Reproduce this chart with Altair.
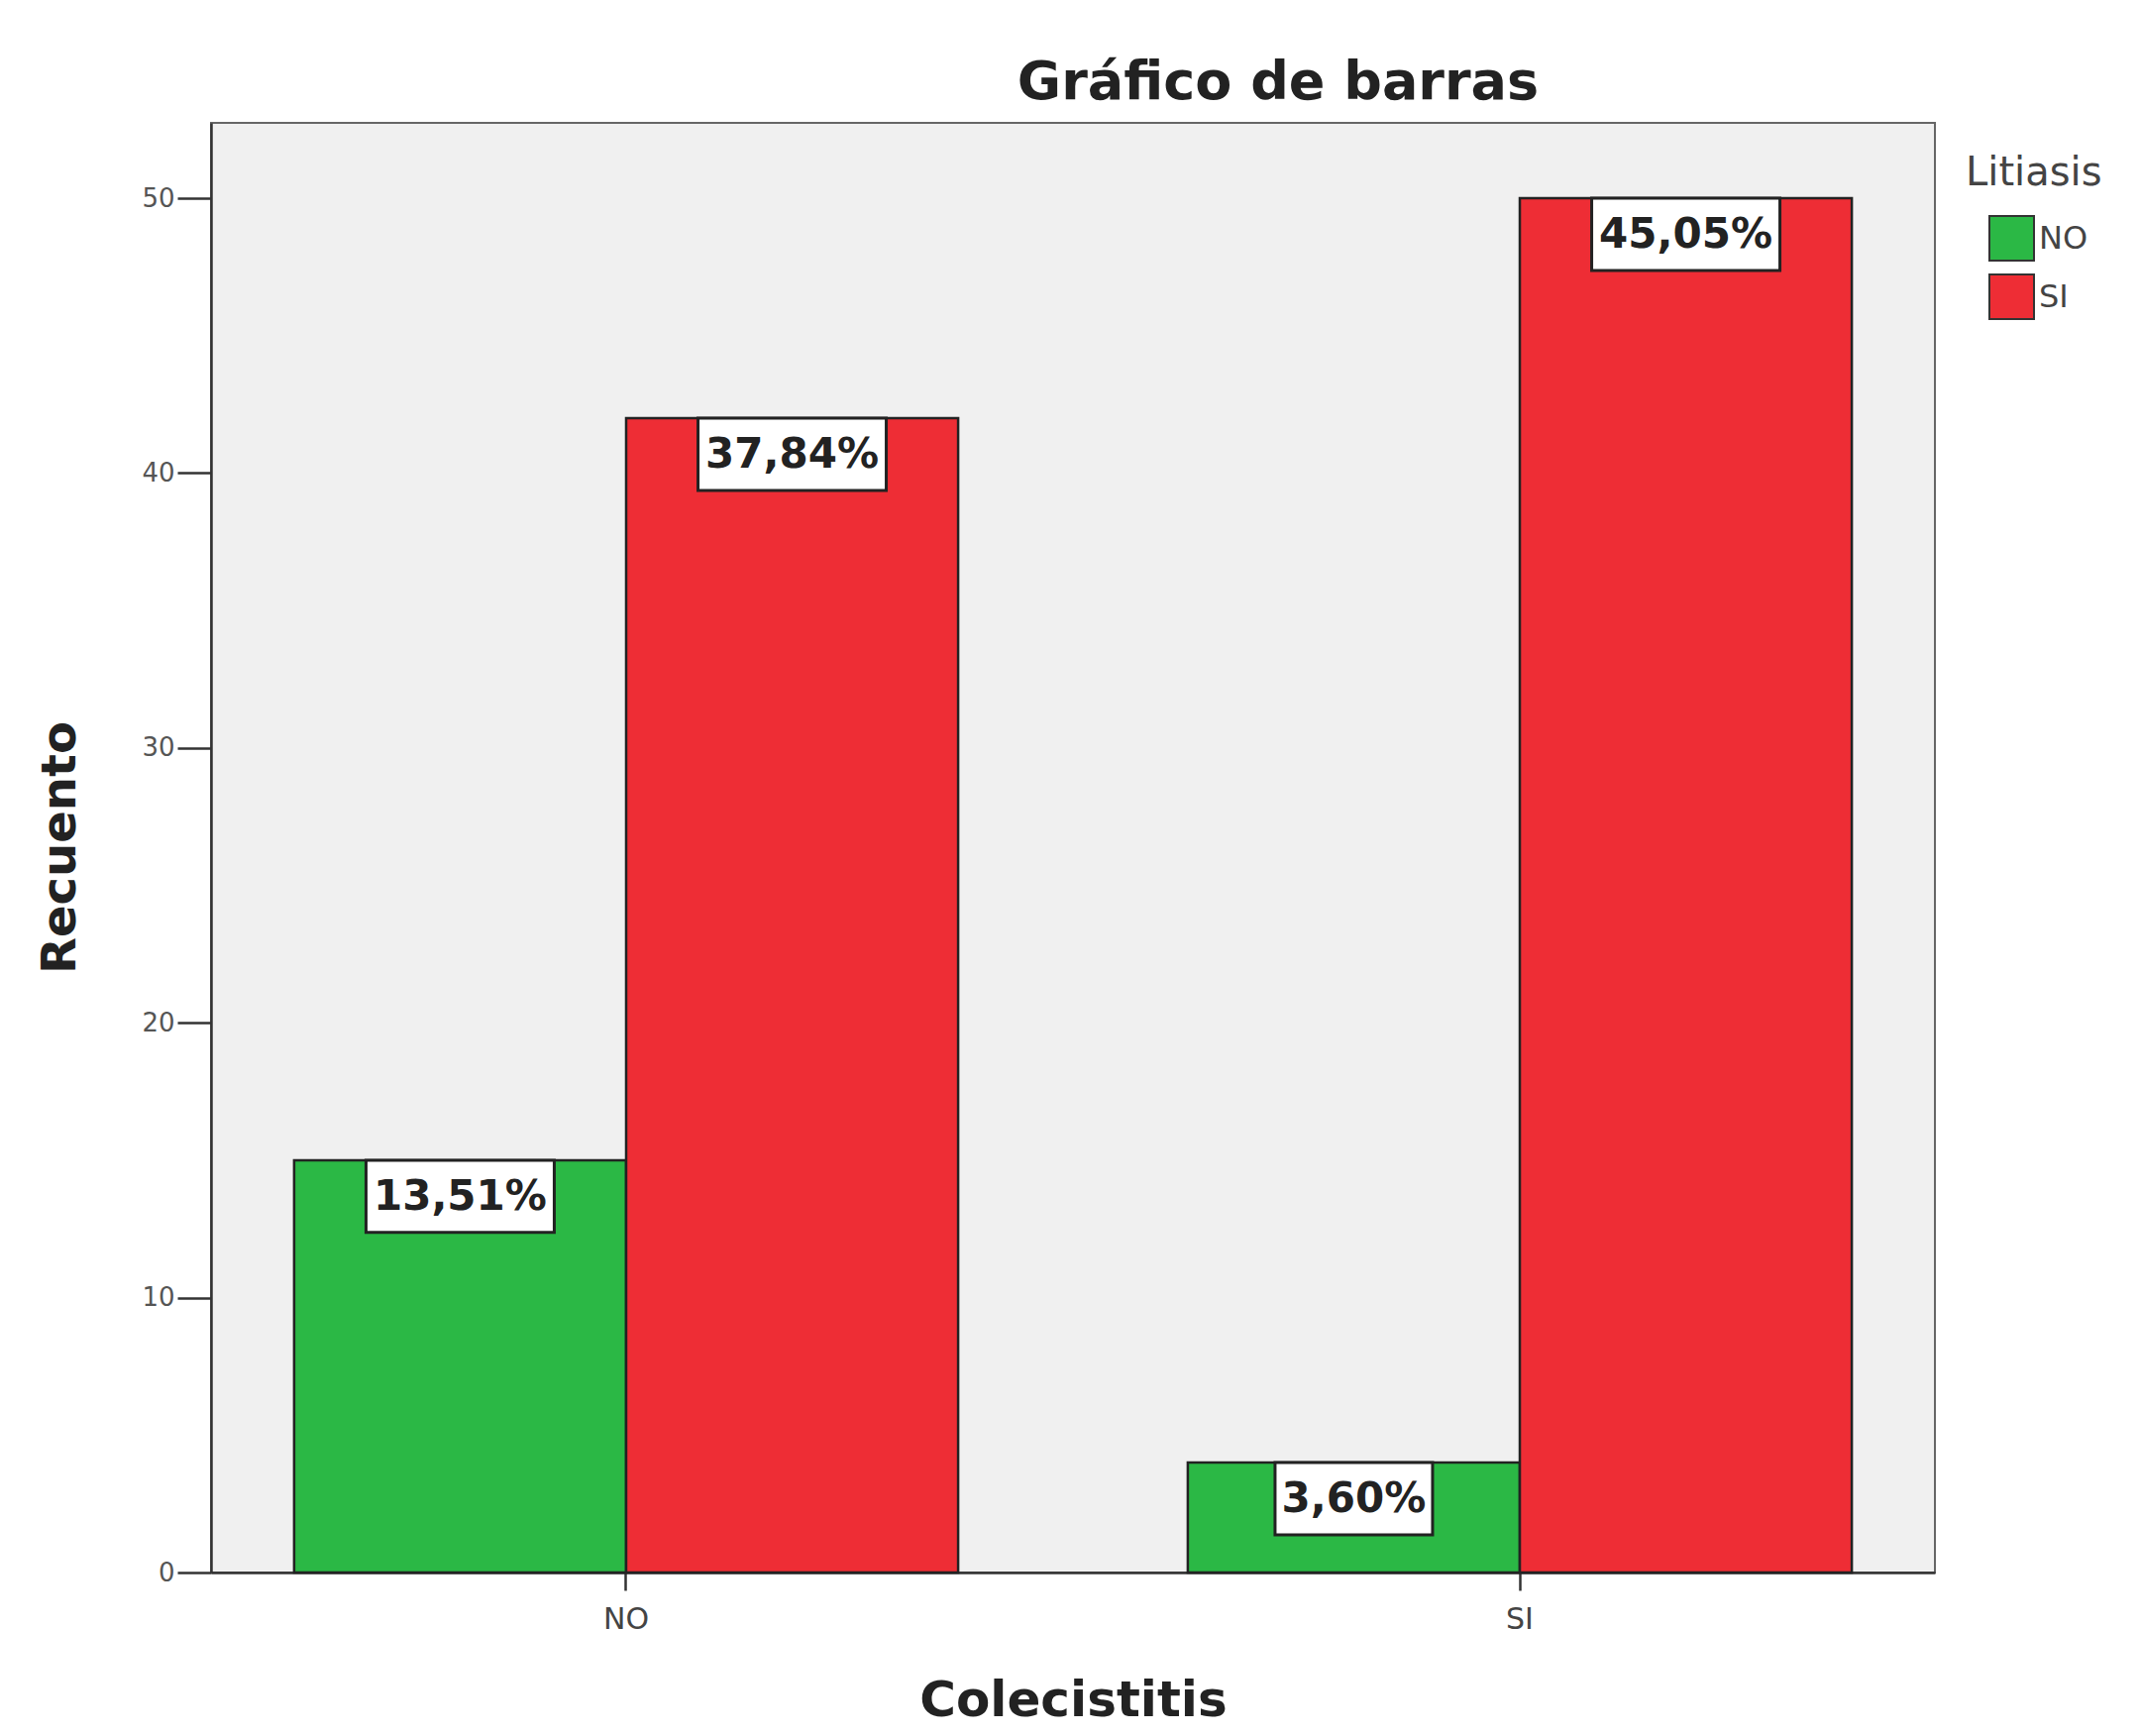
import altair as alt
import pandas as pd

colecistitis = ["NO", "NO", "SI", "SI"]
litiasis = ["NO", "SI", "NO", "SI"]
recuento = [15, 42, 4, 50]
porcentaje = ["13,51%", "37,84%", "3,60%", "45,05%"]

df = pd.DataFrame({
    "Colecistitis": colecistitis,
    "Litiasis": litiasis,
    "Recuento": recuento,
    "Porcentaje": porcentaje,
})
df["box_w"] = df["Porcentaje"].str.len() * 31 + 4

BOX_H = 2.63  # box height in data units

x = alt.X("Colecistitis:N", title="Colecistitis",
          scale=alt.Scale(paddingInner=0.257, paddingOuter=0.093),
          axis=alt.Axis(labelAngle=0, tickSize=18, labelPadding=14,
                        labelFontSize=30, labelColor="#444", labelFont="DejaVu Sans",
                        titleFontSize=50, titleFont="DejaVu Sans", titleFontWeight="bold",
                        titleColor="#222", titleX=870, titleY=144,
                        titleBaseline="alphabetic",
                        domainColor="#333", domainWidth=2.5, tickColor="#333", tickWidth=2.5))
xo = alt.XOffset("Litiasis:N", scale=alt.Scale(paddingInner=0, paddingOuter=0))
y_scale = alt.Scale(domain=[0, 52.74], nice=False, zero=True)
y_axis = alt.Axis(values=[0, 10, 20, 30, 40, 50], tickSize=34, labelPadding=3,
                  labelFontSize=26, labelColor="#555", labelFont="DejaVu Sans",
                  titleFontSize=48, titleFont="DejaVu Sans", titleFontWeight="bold",
                  titleColor="#222", titleAngle=270, titleX=-138, titleY=731,
                  titleBaseline="alphabetic", grid=False,
                  domainColor="#333", domainWidth=2.5, tickColor="#333", tickWidth=2.5)

color = alt.Color("Litiasis:N",
                  scale=alt.Scale(domain=["NO", "SI"], range=["#2BB845", "#EE2D35"]),
                  legend=alt.Legend(title="Litiasis", orient="none", legendX=1771, legendY=31,
                                    titleFontSize=40, titleFont="DejaVu Sans",
                                    titleFontWeight="normal", titleColor="#444",
                                    titlePadding=22, labelFontSize=32, labelColor="#444",
                                    labelFont="DejaVu Sans", symbolType="square",
                                    symbolSize=2025, symbolStrokeColor="#333",
                                    symbolStrokeWidth=2, symbolOffset=23, rowPadding=6,
                                    labelOffset=4))

bars = alt.Chart(df).mark_bar(stroke="#222", strokeWidth=2.5, opacity=1).encode(
    x=x, xOffset=xo,
    y=alt.Y("Recuento:Q", title="Recuento", scale=y_scale, axis=y_axis),
    color=color,
)

boxes = alt.Chart(df).transform_calculate(
    y2v=f"datum.Recuento - {BOX_H}"
).mark_bar(fill="white", stroke="#222", strokeWidth=3).encode(
    x=x, xOffset=xo,
    y=alt.Y("Recuento:Q", scale=y_scale, axis=y_axis),
    y2="y2v:Q",
    size=alt.Size("box_w:Q", scale=None, legend=None),
)

labels = alt.Chart(df).mark_text(
    font="DejaVu Sans", fontWeight="bold", fontSize=42, color="#222",
    baseline="middle", align="center", dy=37
).encode(
    x=x, xOffset=xo,
    y=alt.Y("Recuento:Q", scale=y_scale, axis=y_axis),
    text="Porcentaje:N",
)

chart = alt.layer(bars, boxes, labels).properties(
    width=1740, height=1463,
    title=alt.TitleParams("Gráfico de barras", font="DejaVu Sans", fontSize=54,
                          fontWeight="bold", color="#222", anchor="middle",
                          frame="group", dx=207, dy=53, offset=23, baseline="alphabetic"),
    autosize=alt.AutoSizeParams(type="none"),
    padding={"left": 205, "top": 116, "right": 199, "bottom": 157},
).configure(
    background="white",
    view=alt.ViewConfig(fill="#F0F0F0", stroke="#666", strokeWidth=2),
)

chart.save("out.html", embed_options={"renderer": "svg", "actions": False})
